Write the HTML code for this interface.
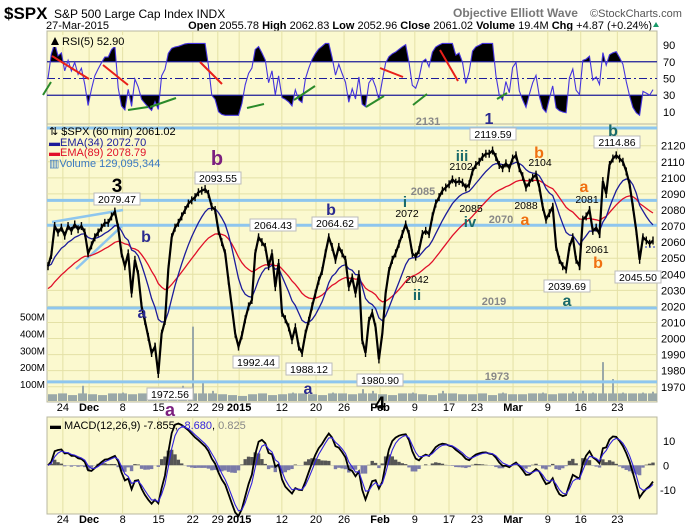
<!DOCTYPE html>
<html><head><meta charset="utf-8"><style>
body{margin:0;background:#fff;}
svg{display:block;font-family:"Liberation Sans",Arial,sans-serif;}
</style></head><body>
<svg id="c" width="700" height="530" viewBox="0 0 700 530" xmlns="http://www.w3.org/2000/svg">
<g>
<text x="4" y="19" font-size="17" font-weight="bold">$SPX</text>
<text x="54" y="18" font-size="12">S&amp;P 500 Large Cap Index  INDX</text>
<text x="453" y="17" font-size="12" font-weight="bold" fill="#777">Objective Elliott Wave</text>
<text x="590" y="17" font-size="11" fill="#555">©StockCharts.com</text>
<text x="46" y="29" font-size="11">27-Mar-2015</text>
<text x="652" y="29" font-size="11" text-anchor="end"><tspan font-weight="bold">Open</tspan> 2055.78 <tspan font-weight="bold">High</tspan> 2062.83 <tspan font-weight="bold">Low</tspan> 2052.96 <tspan font-weight="bold">Close</tspan> 2061.02 <tspan font-weight="bold">Volume</tspan> 19.4M <tspan font-weight="bold">Chg</tspan> +4.87 (+0.24%)</text>
<path d="M653,27 l3,-5 l3,5z" fill="#1a9a6a"/>
</g>
<g id="panels"></g>
</svg>
<script>
const prices=[2045,2052,2070,2066,2069,2064,2070,2067,2071,2068,2070,2066,
2053,2058,2063,2066,2069,2072,2072,2076,2079,2069,2053,2045,2053,2028,2049,2040,2020,2011,2001,1991,1995,1978,2003,2011,2043,2063,2069,2072,2076,2080,2084,2086,2088,2091,2092,2093,2090,2082,2080,2067,2060,2053,2036,2020,2003,1995,2002,2012,2020,2024,2053,2063,2060,2057,2045,2053,2032,2047,2016,2012,2007,1999,2007,1995,1991,2003,2011,2020,2028,2036,2042,2053,2063,2057,2049,2057,2053,
2049,2032,2038,2028,2040,1999,1991,2011,2016,2007,1987,2003,2028,2042,2049,2053,2059,2065,2071,2065,2053,2051,2055,2065,2067,2065,2076,2084,2088,2092,2094,2096,2099,2097,2098,2097,2094,2096,2104,2108,2110,2113,2115,2115,2117,2113,2108,2106,2109,2106,2112,2114,2106,2101,2094,2097,2100,2102,2094,2082,2074,2078,2082,2057,2049,2045,2043,2057,2063,2049,2045,2074,2076,2080,2067,2069,2065,2098,2090,2108,2112,2114,2112,2110,2104,2096,2082,2067,2049,2063,2061,2059,2061];
const volumes=[40,45,35,90,40,35,45,50,40,45,60,55,70,90,440,120,60,40,35,30,40,45,35,40,50,45,40,35,50,45,40,70,60,40,35,45,50,40,35,60,45,40,40,45,35,50,40,40,45,50,40,45,55,60,50,230,130,50,45,50,55];
const dateLabels=["24","Dec","8","15","22","29","2015","12","20","26","Feb","9","17","23","Mar","9","16","23"];
const dateFrac=[0.026,0.069,0.124,0.183,0.239,0.280,0.315,0.385,0.441,0.487,0.546,0.603,0.659,0.705,0.764,0.821,0.875,0.935];
const priceTicks=[2120,2110,2100,2090,2080,2070,2060,2050,2040,2030,2020,2010,2000,1990,1980,1970];
const srLevels=[2131,2086,2070.5,2019,1973];
const volTicks=[500,400,300,200,100];
const rsiTicks=[90,70,50,30,10];
const macdTicks=[10,0,-10];

const NS="http://www.w3.org/2000/svg";
const root=document.getElementById('panels');
function el(tag,attrs,parent,txt){const e=document.createElementNS(NS,tag);for(const k in attrs)e.setAttribute(k,attrs[k]);if(txt!==undefined)e.textContent=txt;(parent||root).appendChild(e);return e;}
const X0=47,X1=657;
const xi=i=>48+i*(653-48)/(prices.length-1);
const xd=f=>X0+f*(X1-X0);
const yP=p=>145.7+(2120-p)*1.607;
const yR=r=>120.3-r*0.836;
const yM=m=>465.3-m*2.45;
const yV=v=>401-v*0.169;
const bg="#fbf9cf",grid="#e4e1a6";

function panel(y0,y1,name){
  const r=el('rect',{x:X0,y:y0,width:X1-X0,height:y1-y0,fill:bg,stroke:"#b8b8a0"});
  
  
  dateFrac.forEach(f=>{const l=el('line',{x1:xd(f),x2:xd(f),y1:y0,y2:y1,stroke:grid});
    
    });
}
panel(31,124,'rsi-panel');
panel(124,402,'price-panel');
panel(417,514,'macd-panel');

priceTicks.forEach(p=>{
  const l=el('line',{x1:X0,x2:X1,y1:yP(p),y2:yP(p),stroke:grid});
  
  
  const t=el('text',{x:661,y:yP(p)+4,"font-size":11},root,String(p));
  
  
});
volTicks.forEach(v=>{
  const t=el('text',{x:45,y:yV(v)+4,"font-size":10,"text-anchor":"end"},root,v+"M");
  
  
});
volumes.forEach((v,i)=>{
  const x=X0+1+i*10;
  const b=el('rect',{x:x,y:yV(Math.min(v,45)),width:9,height:401-yV(Math.min(v,45)),fill:"#9aa8a8"});
  
  
  if(v>45){const s=el('rect',{x:x+4,y:yV(v),width:2,height:401-yV(v),fill:"#9aa8a8"});
    
    }
});
srLevels.forEach(p=>{
  const l=el('line',{x1:X0,x2:X1,y1:yP(p),y2:yP(p),stroke:"#8ec6ee","stroke-width":3});
  
  
});
let w1=el('line',{x1:52,y1:222,x2:123,y2:210,stroke:"#8ec6ee","stroke-width":2.5});


let w2=el('line',{x1:76,y1:269,x2:122,y2:226,stroke:"#8ec6ee","stroke-width":2.5});



function ema(arr,a,seed){let e=seed;return arr.map(v=>{e=e+a*(v-e);return e;});}
const ema34=ema(prices,2/11,2045), ema89=ema(prices,2/28,2030);
function pathOf(arr,fy){return arr.map((v,i)=>(i?'L':'M')+xi(i).toFixed(1)+','+fy(v).toFixed(1)).join('');}
let e89=el('path',{d:pathOf(ema89,yP),fill:"none",stroke:"#e0102a","stroke-width":1.3});


let e34=el('path',{d:pathOf(ema34,yP),fill:"none",stroke:"#1c1c9a","stroke-width":1.3});


let pl=el('path',{d:pathOf(prices,yP),fill:"none",stroke:"#000","stroke-width":2.2});


prices.forEach((p,i)=>{const t=el('line',{x1:xi(i),x2:xi(i),y1:yP(p)-4,y2:yP(p)+4,stroke:"#000","stroke-width":1.4});
  
  });
let cd=el('line',{x1:645,x2:657,y1:yP(2057),y2:yP(2057),stroke:"#2233cc","stroke-dasharray":"2,2"});



const rsi=[];{let ag=1,al=1,n=3.5;prices.forEach((p,i)=>{if(i==0){rsi.push(50);return;}const d=p-prices[i-1];const g=Math.max(d,0),l=Math.max(-d,0);ag=(ag*(n-1)+g)/n;al=(al*(n-1)+l)/n;rsi.push(al==0?92:Math.min(92,Math.max(6,100-100/(1+ag/al))));});}
const defs=el('defs',{});
el('rect',{x:X0,y:31,width:X1-X0,height:yR(70)-31},el('clipPath',{id:'cpHi'},defs));
el('rect',{x:X0,y:yR(30),width:X1-X0,height:124-yR(30)},el('clipPath',{id:'cpLo'},defs));
const rp=pathOf(rsi,yR);
let fh=el('path',{d:rp+'L'+xi(rsi.length-1)+','+yR(70)+'L'+xi(0)+','+yR(70)+'Z',fill:"#000","clip-path":"url(#cpHi)"});


let fl=el('path',{d:rp+'L'+xi(rsi.length-1)+','+yR(30)+'L'+xi(0)+','+yR(30)+'Z',fill:"#000","clip-path":"url(#cpLo)"});


[70,30].forEach(v=>{const l=el('line',{x1:X0,x2:X1,y1:yR(v),y2:yR(v),stroke:"#1c1c9a","stroke-width":1.3});
  
  });
let mid=el('line',{x1:X0,x2:X1,y1:yR(50),y2:yR(50),stroke:"#1c1c9a","stroke-dasharray":"8,3,2,3"});


let rl=el('path',{d:rp,fill:"none",stroke:"#4433dd","stroke-width":1.1});


rsiTicks.forEach(v=>{const t=el('text',{x:663,y:yR(v)+4,"font-size":11},root,String(v));
  
  });
let rbg=el('rect',{x:49,y:35,width:82,height:12,fill:bg});


let rt=el('text',{x:62,y:45,"font-size":11},root,"RSI(5) 52.90");


let ri=el('path',{d:"M51,45 l4,-8 l4,8z",fill:"#000"});


[[52,56,89,79,"red"],[103,65,128,85,"red"],[200,62,222,84,"red"],[380,68,403,77,"red"],[440,50,458,81,"red"],
 [43,95,51,82,"green"],[128,110,148,107,"green"],[150,107,176,98,"green"],[247,108,264,104,"green"],[294,100,315,86,"green"],[366,107,384,96,"green"],[413,105,427,94,"green"],[497,99,507,93,"green"]].forEach(d=>{
  const l=el('line',{x1:d[0],y1:d[1],x2:d[2],y2:d[3],stroke:d[4]=="red"?"#e8201a":"#2a8a2a","stroke-width":2});
  
  });

const f12=ema(prices,2/4.6,prices[0]), s26=ema(prices,2/8.9,prices[0]);
const macd=f12.map((v,i)=>v-s26[i]);
const sig=ema(macd,2/3.7,0);
const hist=macd.map((v,i)=>v-sig[i]);
hist.forEach((h,i)=>{const y=yM(Math.max(h,0)),hh=Math.abs(yM(h)-yM(0));
  const b=el('rect',{x:xi(i)-1.7,y:y,width:3.4,height:hh,fill:h>=0?"#555":"#7a7aa8"});
  
  });
let ml=el('path',{d:pathOf(macd,yM),fill:"none",stroke:"#000","stroke-width":1.8});


let sl=el('path',{d:pathOf(sig,yM),fill:"none",stroke:"#3322dd","stroke-width":1.1});


macdTicks.forEach(v=>{const t=el('text',{x:v<0?660:663,y:yM(v)+4,"font-size":11},root,String(v));
  
  });
let mt=el('text',{x:50,y:429,"font-size":11},root);


mt.innerHTML='<tspan font-weight="bold">▬</tspan> MACD(12,26,9) -7.855, <tspan fill="#3322dd">-8.680</tspan>, <tspan fill="#888">0.825</tspan>';

[411,523].forEach(y=>dateLabels.forEach((d,i)=>{const b=isNaN(+d)||d=="2015";
  const t=el('text',{x:xd(dateFrac[i]),y:y,"font-size":11,"text-anchor":"middle","font-weight":b?"bold":"normal"},root,d);
  
  }));

[["⇅ $SPX (60 min) 2061.02","#000",135],["▬EMA(34) 2072.70","#1c1c9a",146],["▬EMA(89) 2078.79","#e0102a",156],["▥Volume 129,095,344","#3a78c0",167]].forEach(l=>{
  const t=el('text',{x:49,y:l[2],"font-size":11,fill:l[1]},root,l[0]);
  
  });

function ann(x,y,s,col,size,bold){const t=el('text',{x:x,y:y,"font-size":size,fill:col,"text-anchor":"middle","font-weight":bold?"bold":"normal"},root,s);
  
  }
function box(x,y,s){const w=s.length*6+4;
  const r=el('rect',{x:x-w/2,y:y-6,width:w,height:12,fill:"#fff",stroke:"#bbb"});
  
  
  const t=el('text',{x:x,y:y+4,"font-size":10.5,"text-anchor":"middle"},root,s);
  
  }
box(117,199,"2079.47");box(218,178,"2093.55");box(273,225,"2064.43");box(335,223,"2064.62");
box(256,362,"1992.44");box(309,369,"1988.12");box(170,394,"1972.56");box(380,380,"1980.90");
box(493,134,"2119.59");box(567,286,"2039.69");box(617,142,"2114.86");box(638,277,"2045.50");
const NV="#2a2a90",PU="#7b1f7f",OR="#f07010",TE="#1a6a6a",GR="#888";
ann(117,192,"3","#000",19,true);ann(217,165,"b",PU,20,true);ann(146,242,"b",NV,16,true);ann(142,318,"a",NV,16,true);
ann(331,215,"b",NV,16,true);ann(308,394,"a",NV,16,true);ann(170,416,"a",PU,18,true);ann(380,410,"4","#000",19,true);
ann(428,125,"2131",GR,11,true);ann(489,124,"1",NV,16,true);
ann(462,161,"iii",TE,15,true);ann(461,170,"2102","#000",10.5,false);ann(539,158,"b",OR,16,true);ann(540,166,"2104","#000",10.5,false);
ann(423,195,"2085",GR,11,true);ann(405,207,"i",TE,15,true);ann(407,217,"2072","#000",10.5,false);ann(471,212,"2085","#000",10.5,false);
ann(470,227,"iv",TE,15,true);ann(501,223,"2070",GR,11,true);ann(525,225,"a",OR,16,true);ann(526,209,"2088","#000",10.5,false);
ann(584,192,"a",OR,16,true);ann(587,203,"2081","#000",10.5,false);ann(597,253,"2061","#000",10.5,false);ann(598,268,"b",OR,16,true);
ann(417,283,"2042","#000",10.5,false);ann(417,300,"ii",TE,15,true);ann(494,305,"2019",GR,11,true);ann(567,306,"a",TE,16,true);
ann(613,136,"b",TE,16,true);ann(497,380,"1973",GR,11,true);
</script>
</body></html>
